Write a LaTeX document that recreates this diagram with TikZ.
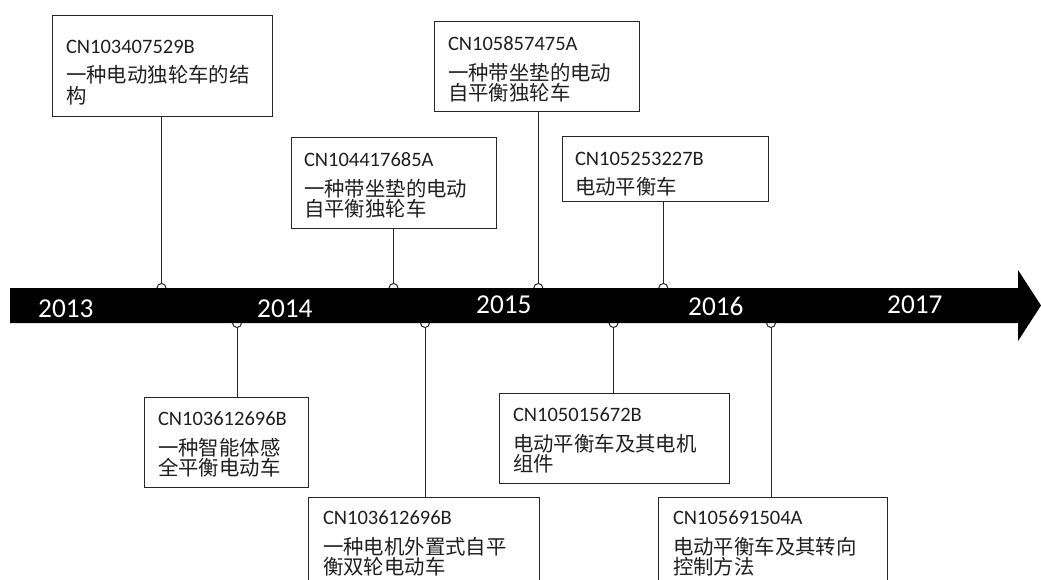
\documentclass[tikz,border=0pt]{standalone}
\usepackage{fontspec}
\setmainfont{Carlito}
\newfontfamily\cjk{Noto Sans CJK SC}
\newcommand\zh[1]{{\cjk\fontsize{20.4}{20.5}\selectfont #1}}
\AtBeginDocument{\lineskiplimit=-50pt\relax}
\begin{document}
\begin{tikzpicture}[x=1pt,y=-1pt,
  box/.style={draw=black!85,line width=1pt,rectangle,inner sep=0pt,outer sep=0pt,anchor=north west},
  txt/.style={anchor=north west,inner sep=0pt,outer sep=0pt,align=left,text=black!88,
    font=\fontsize{20.5}{20.5}\selectfont},
  dot/.style={circle,draw=black!85,line width=1pt,fill=white,minimum size=9pt,inner sep=0pt},
  conn/.style={draw=black!85,line width=1pt},
  year/.style={anchor=base west,inner sep=0pt,text=white,font=\fontsize{27.3}{30}\selectfont}]
\useasboundingbox (0,0) rectangle (1041,580);
\clip (0,0) rectangle (1041,580);
% boxes
\node[box,minimum width=220,minimum height=101] (A) at (52,16) {};
\node[box,minimum width=205,minimum height=90] (B) at (291,138) {};
\node[box,minimum width=205,minimum height=90] (C) at (434,22) {};
\node[box,minimum width=206,minimum height=65] (D) at (562,137) {};
\node[box,minimum width=164,minimum height=90] (E) at (144,397) {};
\node[box,minimum width=231,minimum height=110] (F) at (308,497) {};
\node[box,minimum width=230,minimum height=90] (G) at (499,393) {};
\node[box,minimum width=229,minimum height=110] (H) at (658,497) {};
% texts
\node[txt] (tA) at (66,40) {CN103407529B\\[9pt] \zh{一种电动独轮车的结}\\ \zh{构}};
\node[txt] (tB) at (304,152.7) {CN104417685A\\[9pt] \zh{一种带坐垫的电动}\\ \zh{自平衡独轮车}};
\node[txt] (tC) at (448,36.7) {CN105857475A\\[9pt] \zh{一种带坐垫的电动}\\ \zh{自平衡独轮车}};
\node[txt] (tD) at (575,152) {CN105253227B\\[9pt] \zh{电动平衡车}};
\node[txt] (tE) at (158,411.7) {CN103612696B\\[9pt] \zh{一种智能体感}\\ \zh{全平衡电动车}};
\node[txt] (tF) at (323,511) {CN103612696B\\[9pt] \zh{一种电机外置式自平}\\ \zh{衡双轮电动车}};
\node[txt] (tG) at (513,408) {CN105015672B\\[9pt] \zh{电动平衡车及其电机}\\ \zh{组件}};
\node[txt] (tH) at (673,511) {CN105691504A\\[9pt] \zh{电动平衡车及其转向}\\ \zh{控制方法}};
% circles on the bar
\node[dot] (c1) at (161.5,288) {};
\node[dot] (c2) at (237,323) {};
\node[dot] (c3) at (393.5,288) {};
\node[dot] (c4) at (425,323) {};
\node[dot] (c5) at (538.3,288) {};
\node[dot] (c6) at (613.5,323) {};
\node[dot] (c7) at (663.3,288) {};
\node[dot] (c8) at (771,323) {};
% connectors
\draw[conn] (c1 |- A.south) -- (c1.north);
\draw[conn] (c3 |- B.south) -- (c3.north);
\draw[conn] (c5 |- C.south) -- (c5.north);
\draw[conn] (c7 |- D.south) -- (c7.north);
\draw[conn] (c2.south) -- (c2 |- E.north);
\draw[conn] (c4.south) -- (c4 |- F.north);
\draw[conn] (c6.south) -- (c6 |- G.north);
\draw[conn] (c8.south) -- (c8 |- H.north);
% timeline arrow
\fill[black] (10,288) -- (1018,288) -- (1018,270) -- (1041,305.5) -- (1018,341) -- (1018,323) -- (10,323) -- cycle;
% years
\node[year] (y13) at (38,317) {2013};
\node[year] (y14) at (257,317) {2014};
\node[year] (y15) at (476,313) {2015};
\node[year] (y16) at (688,315) {2016};
\node[year] (y17) at (887,313) {2017};
\end{tikzpicture}
\end{document}
